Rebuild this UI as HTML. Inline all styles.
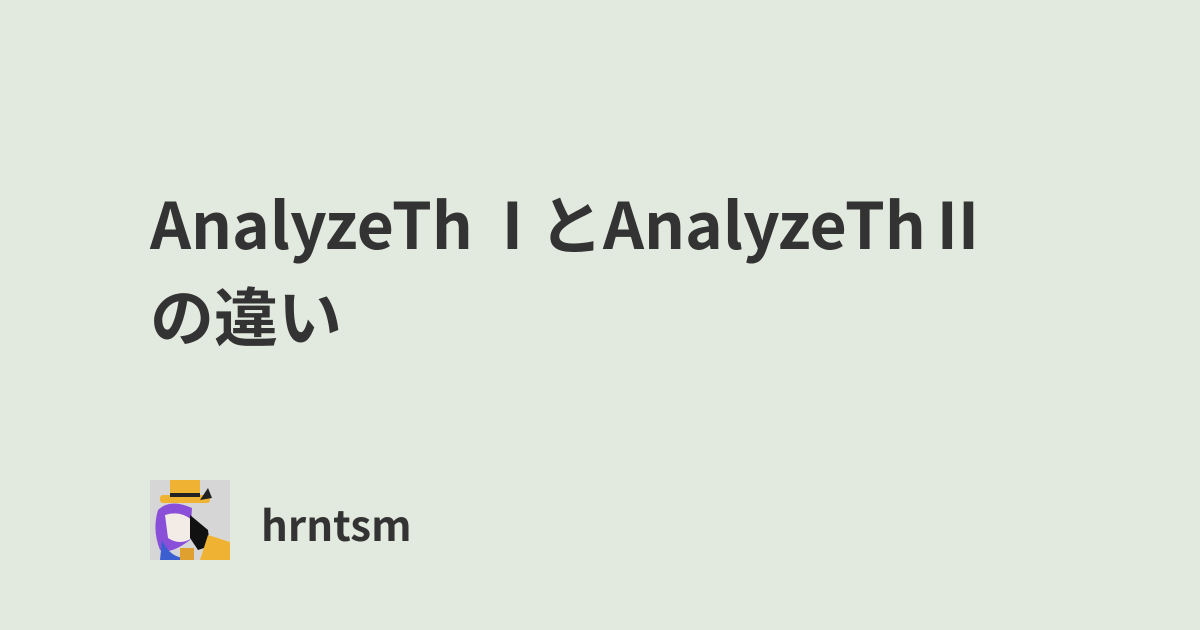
<!DOCTYPE html>
<html><head><meta charset="utf-8"><style>
html,body{margin:0;padding:0}
body{width:1200px;height:630px;background:#e2e9de;position:relative;overflow:hidden;font-family:"Liberation Sans","Noto Sans CJK JP",sans-serif;color:#333}
.t{position:absolute;left:150px;top:176px;width:950px;font-family:"Noto Sans CJK JP","Liberation Sans",sans-serif;font-weight:700;font-size:64px;line-height:92px;color:#333;white-space:nowrap}
.n{position:absolute;left:261px;top:494px;font-family:"Noto Sans CJK JP","Liberation Sans",sans-serif;font-weight:700;font-size:42px;line-height:60px;color:#333}
svg{position:absolute;left:150px;top:480px}
</style></head><body>
<div class="t">AnalyzeTh <span style="margin-left:-7px;margin-right:-20px">Ⅰ</span> とAnalyzeThⅡ<br>の違い</div>
<svg width="80" height="80" viewBox="0 0 80 80">
<rect width="80" height="80" fill="#d6d6d6"/>
<rect x="20" y="0" width="30" height="18" fill="#f0b233"/>
<rect x="10" y="15" width="50" height="8" rx="3" fill="#f0b233"/>
<rect x="20" y="13" width="30" height="4" fill="#222"/>
<path d="M50 20 L58 8 L62 18 Z" fill="#222"/>
<path d="M8 30 Q20 18 42 28 L40 60 Q20 75 10 70 Q2 50 8 30Z" fill="#8a4fd8"/>
<path d="M15 35 Q30 30 42 40 L42 58 Q30 66 18 58 Z" fill="#f3ece6"/>
<path d="M12 60 Q20 78 36 78 L36 80 L10 80 Z" fill="#3b5fd0"/>
<path d="M40 35 L58 50 L60 66 L48 70 L40 58 Z" fill="#111"/>
<path d="M58 55 L80 62 L80 80 L50 80 Z" fill="#f0b233"/>
<path d="M30 68 L44 68 L44 80 L30 80 Z" fill="#e0a030"/>
</svg>
<div class="n">hrntsm</div>
</body></html>
